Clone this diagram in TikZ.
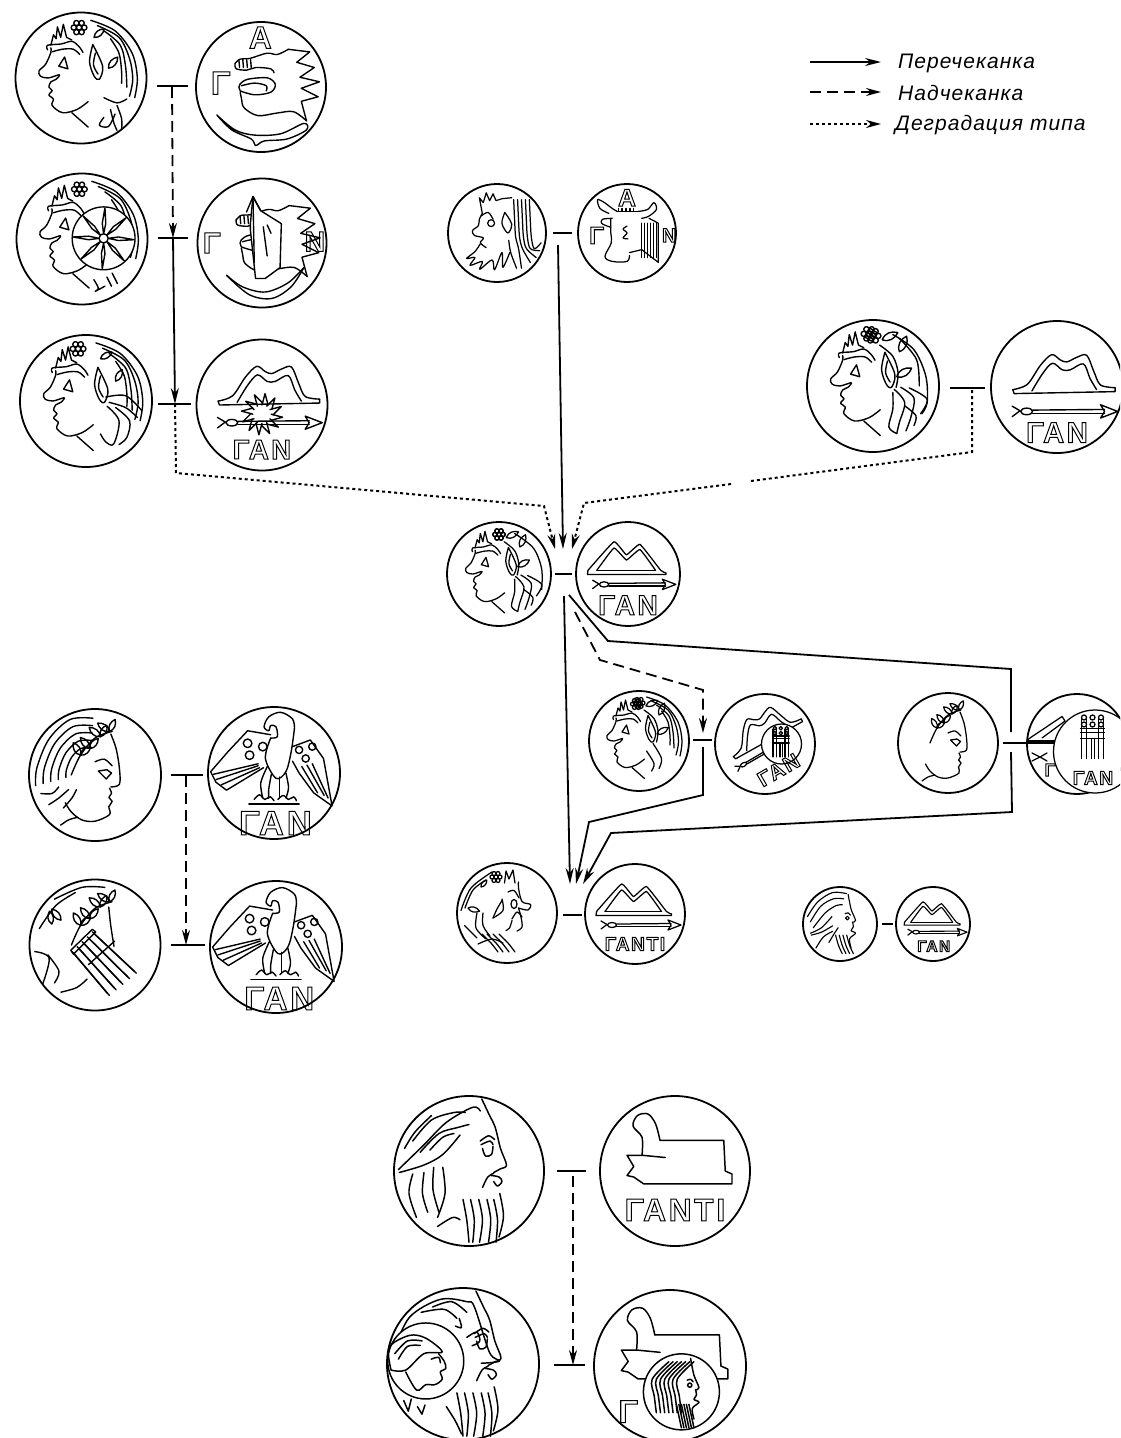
\documentclass[tikz,border=0pt]{standalone}
\usepackage{fontspec}
\usetikzlibrary{arrows.meta}
\newfontfamily\hfont{Liberation Sans}[Scale=1,LetterSpace=9]
\newfontfamily\legfont{Liberation Sans}[LetterSpace=5]
\def\lw{1}
\def\Rr{50}
\tikzset{
 art/.style={line width=\lw pt,line join=round,line cap=round,black},
 coin/.style={circle,draw,line width=1.8pt,inner sep=0pt,outer sep=0pt,fill=white},
 conn/.style={line width=1.8pt,black},
 solidc/.style={conn,-{Stealth[length=16pt,width=8pt]}},
 dashc/.style={conn,dash pattern=on 11pt off 6pt,-{Stealth[length=15pt,width=8pt]}},
 dotc/.style={line width=2pt,black,dash pattern=on 3pt off 3pt,-{Stealth[length=15pt,width=8pt]}},
 legtext/.style={anchor=west,inner sep=0pt,font=\legfont\itshape\fontsize{21}{22}\selectfont},
}
\newcommand\mkcoin[4]{\node[coin,minimum size=#4*2pt] (#1) at (#2,#3) {};}
\newcommand\artin[3]{\begin{scope}[shift={(#1.center)},scale=#2/100]\pgfmathsetmacro\Rr{#2}\pgfmathsetmacro\lw{0.8+#2*0.009}#3\end{scope}}
\newcommand\crv[1]{\draw[art] plot[smooth,tension=.55] coordinates {#1};}
\newcommand\stl[1]{\draw[art] plot coordinates {#1};}
\newcommand\hollow[5]{\pgfmathsetmacro\fsz{\Rr*#4}\node[rotate=#5,inner sep=0pt] at (#1,#2) {\fontsize{\fsz}{\fsz}\selectfont\hfont\bfseries\special{pdf:code q 1 Tr 1 w}#3\special{pdf:code Q}};}
\newcommand\flower[2]{\begin{scope}[shift={(#1,#2)}]\foreach\a in {0,60,...,300}{\draw[art] (\a:8) circle (4);}\draw[art] (0,0) circle (4);\end{scope}}
\newcommand\leaf[4]{\begin{scope}[shift={(#1,#2)},rotate=#3]\draw[art] (0,0) .. controls (#4*.3,-#4*.3) and (#4*.7,-#4*.25) .. (#4,0) .. controls (#4*.7,#4*.25) and (#4*.3,#4*.3) .. (0,0);\end{scope}}
\newcommand\ovl[3]{\draw[art,fill=white] (#1,#2) circle (#3);}
% young head facing left
\newcommand\youngface{
 \crv{(-46,-46)(-46,-39)(-54,-21)(-64,-11)(-62,-3)(-50,0)(-33,-5)(-38,2)(-46,6)(-49,14)(-44,19)(-49,26)(-42,32)(-44,42)(-28,53)(-6,48)(11,36)}
 \stl{(-14,53)(11,75)}
 \crv{(-51,-43)(-51,-50)(-30,-52)(-14,-56)(-3,-48)(3,-39)}
 \crv{(-44,-40)(-28,-44)(-12,-44)(-2,-36)}
 \stl{(-34,-18)(-25,-32)(-20,-14)(-34,-18)}
 \stl{(-46,-50)(-42,-66)(-38,-60)(-36,-78)(-31,-62)(-27,-82)(-22,-62)(-14,-58)}
}
\newcommand\earp{\crv{(18,-51)(13,-25)(20,-3)(28,2)(33,-18)(18,-51)}\crv{(22,-38)(19,-20)(26,-6)}}
\newcommand\wreathL{\flower{0}{-76}\leaf{14}{-70}{25}{26}\leaf{40}{-52}{65}{26}\leaf{36}{-14}{30}{26}\crv{(10,-62)(30,-45)(38,-20)(35,2)}}
\newcommand\locks{\crv{(32,5)(48,25)(40,55)(36,72)}\crv{(42,2)(62,18)(58,45)(50,68)}\crv{(55,3)(82,20)(72,42)}\crv{(30,10)(30,35)(24,62)(36,72)}\crv{(48,30)(65,45)(62,60)}}
\newcommand\hairarcs{\crv{(15,-88)(52,-72)(78,-38)(86,0)(82,30)}\crv{(25,-80)(58,-62)(74,-30)(79,2)(74,28)}\crv{(35,-72)(60,-50)(68,-18)(70,14)}\crv{(45,-60)(58,-38)(62,-10)(62,8)}}
% mountains, arrow
\newcommand\mountain{
 \crv{(-67,2)(-45,-6)(-25,-35)(-8,-51)(5,-43)(15,-40)(30,-47)(45,-50)(56,-25)(66,-5)(88,-1)}
 \crv{(-38,4)(-22,-22)(-7,-38)(8,-28)(20,-28)(40,-37)(50,-15)(60,2)}
 \stl{(-67,2)(-65,8)(88,5)(88,-1)}
}
\newcommand\mountainB{
 \draw[art] plot[smooth,tension=.2] coordinates {(-77,-5)(-27,-60)(-3,-35)(23,-55)(63,-5)(73,0)};
 \draw[art] plot[smooth,tension=.2] coordinates {(-60,-5)(-27,-48)(-3,-25)(23,-45)(53,-5)};
 \stl{(-77,-5)(-78,3)(73,3)(73,0)}\stl{(-60,-5)(53,-5)}
}
\newcommand\arrowT{
 \draw[art] (-46,0) ellipse (9 and 5);
 \stl{(-68,-8)(-56,-1)(-68,8)} \stl{(-37,-2)(72,-3)} \stl{(-37,3)(72,3)}
 \stl{(66,-10)(92,0)(66,10)(72,0)(66,-10)}
}
% lion
\newcommand\lion{
 \crv{(-40,-36)(-32,-43)(-17,-44)(9,-52)(25,-50)(42,-58)}
 \stl{(42,-58)(75,-54)(55,-38)(82,-30)(60,-15)(90,-8)(62,2)(88,15)(62,22)(70,52)}
 \crv{(70,52)(50,38)(25,40)(-5,44)(-26,32)(-30,18)(-32,8)}
 \crv{(-32,6)(-10,12)(15,8)(22,-4)(10,-14)(-20,-12)(-32,-5)(-34,0)(-32,6)}
 \crv{(-30,-2)(-10,-6)(8,-2)(8,6)}
 \crv{(-40,-36)(-38,-28)(-22,-26)(-8,-30)(15,-28)(20,-22)}
 \foreach\x in {-34,-28,-22,-16}{\stl{(\x,-42)(\x+1,-30)}}
}
\newcommand\fish{\crv{(-68,43)(-40,66)(-10,74)(30,72)(66,56)(70,66)(40,80)(5,83)(-8,90)(-15,80)(-45,66)(-68,43)}}
% bearded head facing left
\newcommand\panL{
 \stl{(-30,-40)(-36,-72)(-28,-62)(-22,-82)(-15,-66)(-8,-80)(-2,-66)(10,-70)(30,-72)}
 \crv{(-30,-40)(-36,-28)(-38,-15)(-50,-5)(-46,5)(-28,10)(-34,20)(-22,30)}
 \crv{(-32,-35)(-18,-42)(-8,-28)} \draw[art] (-12,-20) circle (7);
 \crv{(-34,22)(-45,38)(-62,52)(-45,50)(-55,66)(-30,58)(-35,74)(-10,55)(-5,75)(10,40)(12,70)(26,40)}
 \crv{(16,-42)(10,-20)(22,0)(30,-18)(16,-42)}
 \foreach\x/\ex/\ey in {34/50/72,42/68/60,50/80/50,58/87/36,66/90/20}{\crv{(\x,-68)(\x+2,-25)(\x+4,8)(\x+10,32)(\ex,\ey)}}
 \crv{(24,15)(28,40)(40,72)}
}
% bull
\newcommand\bull{
 \crv{(-37,-40)(-55,-50)(-60,-68)(-46,-62)(-30,-50)(-20,-44)} 
 \crv{(22,-44)(42,-48)(55,-62)(60,-48)(44,-34)(30,-30)}
 \stl{(-20,-44)(22,-44)}
 \foreach\x in {-18,-10,-2,6,14}{\stl{(\x,-50)(\x,-44)}}
 \crv{(-30,-30)(-50,-28)(-52,-20)(-40,-14)(-33,-12)}
 \crv{(-33,-30)(-33,0)(-32,20)(-45,48)(-30,58)(0,58)(5,46)}
 \crv{(0,-14)(-8,-8)(0,0)(-8,10)(2,12)}
 \stl{(5,40)(30,34)(64,60)(64,-20)(45,-30)}
 \foreach\x in {30,36,42,48,54,60}{\stl{(\x,-20)(\x,50)}}
}
% eagle
\newcommand\eagleA{
 \crv{(-5,-53)(-13,-22)(3,8)(18,-2)(26,-32)(31,-68)}
 \crv{(31,-68)(28,-82)(10,-92)(-8,-85)(-15,-70)(-8,-64)(-5,-72)(3,-70)(5,-55)(-5,-53)}
 \stl{(-5,-58)(-40,-64)(-70,-32)(-96,-2)(-88,14)(-72,26)(-16,-8)}
 \stl{(-24,-14)(-92,2)}\stl{(-24,-11)(-88,10)}\stl{(-22,-8)(-80,18)}
 \draw[art] (-40,-45) circle (6.5); \draw[art] (-17,-40) circle (6.5); \draw[art] (-37,-27) circle (6.5);
 \stl{(28,-40)(55,-50)(75,-22)(88,50)(60,30)(38,0)(28,-18)}
 \stl{(42,-10)(66,30)}\stl{(50,-12)(76,34)}\stl{(58,-14)(82,38)}
 \draw[art] (38,-35) circle (5.5); \draw[art] (58,-40) circle (5.5); \draw[art] (48,-22) circle (5.5);
 \crv{(-10,-10)(-20,15)(-17,38)} \crv{(-4,2)(-8,25)(-8,38)} \crv{(18,0)(22,22)(18,38)} \crv{(8,6)(8,25)(8,38)}
 \crv{(-30,40)(-22,33)(-14,40)(-6,36)(0,42)} \crv{(6,40)(14,34)(22,40)(30,36)(34,42)}
 \stl{(-38,47)(38,47)}
}
% laureate head facing right
\newcommand\laurR{
 \crv{(24,-62)(32,-40)(37,-10)(37,14)(24,18)}
 \crv{(22,20)(25,28)(21,34)(26,40)(21,48)(22,60)(0,70)(-20,68)(-36,56)(-45,42)}
 \crv{(-52,76)(-40,68)(-26,64)}
 \stl{(5,-6)(18,-8)(25,-3)(17,6)(5,-6)} \crv{(0,-20)(14,-24)(26,-14)}
}
\newcommand\laurel{\foreach\x/\y/\a in {22/-66/-35,8/-58/-40,-8/-40/-50,-22/-30/-60}{\leaf{\x}{\y}{\a+180}{22}\leaf{\x}{\y}{\a+100}{20}}
 \crv{(26,-66)(0,-56)(-22,-30)(-36,0)}}
% ladder-like lyre across a head
\newcommand\lyreD{
 \foreach\t in {0,.25,.5,.75,1}{\draw[art] ({-35+31*\t},{10-30*\t}) -- ({19+41*\t},{74-34*\t}); \draw[art] ({-32+31*\t},{13-30*\t}) -- ({22+41*\t},{77-34*\t});}
 \draw[art] (-37,8) -- (-4,-24) -- (1,-20) -- (-33,14) -- cycle;
 \stl{(-10,30)(30,-6)}
}
\newcommand\lyreV{
 \foreach\x in {-24,-14,10,20}{\draw[art] (\x,-45) -- (\x,34);}
 \foreach\y in {-26,-18,-6}{\draw[art] (-26,\y) -- (22,\y);}
 \foreach\x in {-19,-2,15}{\draw[art] (\x,-48) circle (5); \draw[art] (\x,-34) circle (5);}
 \draw[art] (-4,-6) -- (-4,34); \draw[art] (2,-6) -- (2,34);
}
% big bearded head facing right
\newcommand\zeusR{
 \crv{(17,-96)(27,-75)(35,-58)(42,-30)(50,-8)(42,-3)(33,2)}
 \crv{(16,-35)(28,-40)(32,-35)} \crv{(18,-30)(22,-20)(30,-22)(32,-33)} \crv{(15,-40)(26,-47)(34,-42)}
 \crv{(33,3)(25,8)(18,22)} \crv{(30,6)(40,8)(44,14)(38,20)(33,14)}
 \foreach\x/\e in {-8/0,2/5,13/14,24/26,33/36}{\crv{(\x,38)(\x+5,65)(\e,95)}}
 \crv{(41,30)(46,60)(40,88)}
}
\newcommand\zeusHair{
 \crv{(-94,-2)(-60,-35)(-30,-65)(5,-85)(15,-80)} \crv{(-75,-40)(-50,-68)(-20,-78)(-5,-78)}
 \crv{(-65,-25)(-40,-50)(-15,-58)(0,-62)} \crv{(-93,2)(-60,-8)(-35,-22)(-12,-48)}
 \crv{(-86,-30)(-72,-52)(-50,-74)} \crv{(-52,-28)(-35,-45)(-20,-50)}
 \crv{(-75,4)(-80,30)(-70,62)} \crv{(-60,2)(-62,30)(-55,55)} \crv{(-47,-5)(-48,25)(-40,55)} \crv{(-35,-5)(-32,30)(-42,62)}
 \crv{(-42,74)(-22,62)(-12,65)}
}
\newcommand\sphinx{
 \crv{(-44,-21)(-44,-45)(-56,-60)(-50,-74)(-36,-76)(-26,-63)(-20,-41)}
 \stl{(-20,-41)(65,-41)(67,0)(76,4)(76,17)(-42,17)(-55,8)(-64,6)(-55,-6)(-64,-21)(-44,-21)(-13,-18)}
}
\newcommand\helm{
 \crv{(-38,10)(-40,-15)(-18,-28)(0,-25)(18,-10)(-2,-8)(-22,10)(-38,10)}
 \crv{(-34,-8)(-20,-22)(-4,-22)}\crv{(-30,-2)(-20,-16)(-6,-17)}
 \crv{(14,-8)(20,0)(22,8)(16,12)(18,20)(10,26)(0,26)(-10,32)(-22,12)}
 \crv{(6,-2)(14,-4)(16,2)}
}
\begin{document}
\begin{tikzpicture}[x=1pt,y=-1pt]
\path[use as bounding box,fill=white] (0,0) rectangle (1120,1438);
\clip (0,0) rectangle (1120,1438);
% coins
\mkcoin{a1}{81}{78}{65.5}\mkcoin{a2}{261}{87}{65}
\mkcoin{b1}{82}{239}{65.5}\mkcoin{b2}{262}{243}{64.5}
\mkcoin{c1}{86}{401}{66}\mkcoin{c2}{262}{405}{65.5}
\mkcoin{t1}{497}{233}{49}\mkcoin{t2}{627}{233}{49}
\mkcoin{r1}{873}{386}{66}\mkcoin{r2}{1057}{387}{66}
\mkcoin{m1}{499}{574}{52}\mkcoin{m2}{628}{574}{52}
\mkcoin{n1}{639}{741}{50}\mkcoin{n2}{765}{744}{50}
\mkcoin{n3}{948}{743}{50}\mkcoin{n4}{1077}{744}{50}
\mkcoin{e1}{507}{913}{50}\mkcoin{e2}{635}{914}{50}
\mkcoin{g1}{840}{924}{37}\mkcoin{g2}{933}{924}{37}
\mkcoin{l1}{95}{775}{66}\mkcoin{l2}{274}{773}{66}
\mkcoin{l3}{95}{945}{65.5}\mkcoin{l4}{276}{947}{66}
\mkcoin{z1}{469}{1171}{75}\mkcoin{z2}{675}{1171}{75}
\mkcoin{z3}{463}{1364}{76}\mkcoin{z4}{670}{1366}{76}
% art
\artin{a1}{65.5}{\youngface\earp\flower{-3}{-77}\hairarcs\leaf{20}{-62}{40}{20}\leaf{42}{-15}{50}{22}\crv{(35,30)(55,38)(70,32)}\crv{(45,48)(50,68)(55,80)}\crv{(55,42)(62,62)(62,78)}\crv{(35,60)(28,72)(42,74)(52,55)}}
\artin{a2}{65}{\lion\fish\hollow{-62}{-6}{Γ}{.5}{0}\hollow{-1}{-76}{Α}{.48}{0}}
\artin{b1}{65.5}{\youngface\flower{-4}{-76}\hairarcs\ovl{33}{-1}{48}\foreach\a in {0,45,...,315}{\draw[art] (33,-1) ++(\a:7) -- ++(\a+12:16) -- ++(\a-3:24) -- ++(\a-170:24) -- cycle;}\draw[art] (33,-1) circle (7);\crv{(18,62)(25,75)(20,80)(35,72)}\crv{(38,58)(45,72)}\crv{(46,52)(54,68)}}
\artin{b2}{64.5}{\lion\crv{(-55,50)(-30,68)(5,76)(40,62)(65,38)}\crv{(-55,50)(-20,80)(15,86)(45,68)(65,38)}
 \draw[art,fill=white] (-18,-20) -- (-18,-30) -- (-14,-72) -- (-2,-50) -- (30,-30) -- (28,38) -- (5,55) -- (-10,55) -- cycle;
 \stl{(-24,-48)(-14,-72)(-2,-50)}\stl{(-14,-72)(-12,30)}\stl{(2,-25)(8,20)}\stl{(8,-28)(14,-15)}
 \hollow{-78}{0}{Γ}{.46}{0}\hollow{82}{-2}{Ν}{.44}{0}}
\artin{c1}{66}{\youngface\earp\flower{-12}{-79}\hairarcs\leaf{22}{-64}{30}{20}\leaf{45}{-30}{60}{20}\crv{(30,-6)(60,-8)(84,14)}\crv{(35,2)(60,10)(78,25)}\crv{(32,8)(50,30)(42,65)(30,62)(22,50)}\crv{(45,10)(66,30)(62,55)(50,66)}}
\artin{c2}{65.5}{\begin{scope}[shift={(0,-8)}]\mountain\end{scope}\begin{scope}[shift={(0,27)}]\arrowT\end{scope}\foreach\a in {0,30,...,330}{\draw[art] (0,14) ++(\a:14) -- ++(\a+15:18) -- ++(\a+165:18);}\hollow{0}{68}{ΓΑΝ}{.42}{0}}
\artin{t1}{49}{\panL}
\artin{t2}{49}{\bull\hollow{0}{-72}{Α}{.5}{0}\hollow{-62}{5}{Γ}{.5}{0}\hollow{86}{5}{Ν}{.4}{0}}
\artin{r1}{66}{\youngface\earp\flower{-6}{-79}\wreathL\locks\crv{(30,-78)(62,-55)(80,-15)(82,25)(74,42)}\crv{(40,-72)(66,-40)(70,0)}}
\artin{r2}{66}{\begin{scope}[shift={(0,2)}]\mountain\end{scope}\begin{scope}[shift={(0,37)}]\arrowT\end{scope}\hollow{0}{69}{ΓΑΝ}{.44}{0}}
\artin{m1}{52}{\youngface\earp\flower{0}{-76}\wreathL\locks\crv{(30,-78)(66,-50)(82,-10)(82,30)}}
\artin{m2}{52}{\begin{scope}[shift={(0,-2)}]\mountainB\end{scope}\begin{scope}[shift={(0,20)}]\arrowT\end{scope}\hollow{0}{60}{ΓΑΝ}{.54}{0}}
\artin{n1}{50}{\youngface\earp\flower{-5}{-74}\wreathL\hairarcs\crv{(15,20)(30,45)(25,60)}\crv{(28,5)(45,35)(40,55)}}
\artin{n2}{50}{\begin{scope}[shift={(-5,-8)},rotate=28]\mountain\end{scope}\begin{scope}[shift={(-13,24)},rotate=30,scale=.75]\arrowT\end{scope}\ovl{33}{0}{40}\begin{scope}[shift={(33,2)},scale=.7]\lyreV\end{scope}\hollow{27}{52}{ΓΑΝ}{.42}{30}}
\artin{n3}{50}{\laurR\laurel}
\artin{n4}{50}{\stl{(-100,-8)(-30,-55)(-24,-46)(-70,-12)}\stl{(-100,-6)(-40,-6)}\stl{(-100,-2)(-40,-2)}\stl{(-90,18)(-74,26)(-60,18)}\stl{(-90,34)(-74,26)(-60,34)}\hollow{-54}{52}{Γ}{.36}{0}\ovl{36}{15}{83}\begin{scope}[shift={(33,-5)}]\lyreV\end{scope}\hollow{32}{68}{ΓΑΝ}{.38}{0}}
\artin{e1}{50}{
 \crv{(23,-62)(23,-50)(30,-23)(47,-17)(42,-6)(23,-10)} \crv{(2,-42)(14,-45)(24,-30)} \draw[art] (14,-18) ellipse (6 and 9);
 \crv{(23,-10)(28,8)(30,28)(20,36)} \crv{(10,12)(20,-2)(30,8)} \crv{(10,15)(5,30)(-2,35)}
 \foreach\x in {-50,-40,-28,-16}{\crv{(\x,42)(\x+18,60)(\x+32,78)}}
 \crv{(-58,62)(-30,52)(-8,60)} \flower{-22}{-72} \stl{(-5,-60)(-2,-84)(4,-68)(12,-86)(16,-60)}
 \leaf{-52}{-52}{50}{18}\leaf{-78}{-10}{-15}{24}\crv{(-10,-25)(-20,-8)(-28,10)}\crv{(-10,-28)(-8,-5)(-28,10)}
 \crv{(-92,-5)(-72,-50)(-30,-82)} \crv{(-84,-10)(-68,-46)(-42,-66)} \crv{(-85,25)(-70,40)(-60,50)} \crv{(-60,0)(-62,30)(-42,52)}\crv{(-48,0)(-48,25)(-34,46)}}
\artin{e2}{50}{\begin{scope}[shift={(0,0)}]\mountainB\end{scope}\begin{scope}[shift={(0,22)}]\arrowT\end{scope}\hollow{0}{60}{ΓΑΝΤΙ}{.38}{0}}
\artin{g1}{37}{
 \crv{(22,-80)(30,-40)(42,-10)(34,-5)} \crv{(34,-5)(36,8)(30,18)(42,25)(26,40)(30,65)} \crv{(14,-28)(22,-30)(28,-24)} \draw[art] (20,-16) circle (5);
 \crv{(-88,-20)(-60,-60)(-20,-85)(18,-82)} \crv{(-80,-6)(-52,-48)(-18,-68)(10,-68)} \crv{(-72,10)(-40,-30)(-10,-50)(6,-52)} \crv{(-80,25)(-50,10)(-22,-20)}
 \crv{(-78,30)(-50,22)(-20,5)} \crv{(-65,65)(-45,35)(-20,20)} \crv{(-30,50)(-15,25)(-5,10)}
 \foreach\x in {-12,-2,8,18}{\crv{(\x,30)(\x+8,58)(\x+18,80)}}}
\artin{g2}{37}{\begin{scope}[shift={(0,0)}]\mountainB\end{scope}\begin{scope}[shift={(0,22)}]\arrowT\end{scope}\hollow{2}{60}{ΓΑΝ}{.42}{0}}
\artin{l1}{66}{\laurR\laurel
 \foreach\s in {1,.86,.72,.58,.44}{\begin{scope}[shift={(-8,-6)},scale=\s]\crv{(5,-80)(-30,-78)(-62,-48)(-80,-5)(-82,22)}\end{scope}}
 \crv{(-82,28)(-65,28)(-55,18)}\crv{(-70,45)(-55,35)(-40,22)}\crv{(-48,50)(-35,35)(-28,22)}}
\artin{l2}{66}{\eagleA\hollow{2}{76}{ΓΑΝ}{.52}{0}}
\artin{l3}{65.5}{\laurel\crv{(21,-58)(24,-30)(29,2)}\crv{(-62,-70)(-20,-88)(15,-88)}\crv{(-85,-25)(-60,-60)(-30,-80)}\crv{(-92,10)(-70,20)(-80,60)}\crv{(-72,15)(-55,40)(-62,58)}\crv{(-52,72)(-28,65)(-12,52)}\leaf{-52}{-38}{130}{22}\leaf{-66}{-32}{100}{20}\lyreD}
\artin{l4}{66}{\begin{scope}[shift={(0,2)}]\eagleA\end{scope}\hollow{5}{78}{ΓΑΝ}{.5}{0}}
\artin{z1}{75}{\zeusR\zeusHair}
\artin{z2}{75}{\sphinx\hollow{0}{52}{ΓΑΝΤΙ}{.42}{0}}
\artin{z3}{76}{\zeusR
 \crv{(-90,-20)(-70,-62)(-30,-85)(5,-82)(15,-75)(35,-15)(48,-4)(24,-1)}
 \crv{(-55,-68)(-25,-72)(-8,-60)}\crv{(-40,-75)(-15,-82)(5,-68)}\crv{(-5,-60)(-2,-48)(-10,-50)}
 \crv{(5,-35)(18,-42)(22,-30)(12,-24)}
 \ovl{-49}{-4}{50}\begin{scope}[shift={(-49,-4)},scale=1.2]\helm\end{scope}
 \stl{(-78,48)(-72,62)(-68,46)}\stl{(-60,56)(-54,66)(-50,54)}
 \crv{(-22,56)(-10,75)(-2,92)}}
\artin{z4}{76}{\sphinx\hollow{-55}{60}{Γ}{.42}{0}\ovl{15}{34}{50}\begin{scope}[shift={(15,34)},scale=.55]
 \crv{(22,-80)(30,-40)(42,-10)(34,-5)}\crv{(34,-5)(36,8)(30,18)(42,25)(26,40)(30,65)}\crv{(14,-28)(22,-30)(28,-24)}\draw[art] (20,-16) circle (5);
 \foreach\s in {-70,-60,-50,-40,-30,-20,-10}{\crv{(\s+40,-72)(\s,-30)(\s+5,10)(\s+10,50)}}
 \foreach\x in {-12,-6,0,6,12,18}{\crv{(\x,30)(\x+6,58)(\x+12,86)}}\end{scope}}
% tick anchors and bends
\foreach\n/\xa/\xb/\yy in {p1/157/188/86,p2/158/188/238,p3/158/191/404,p4/553/572/233,p5/950/985/388,p6/555/572/574,p7/693/712/740,p8/1003/1027/743,p9/563/582/915,p10/882/893/924,p11/171/203/775,p12/171/205/945,p13/557/586/1171,p14/554/585/1365}
 {\coordinate (\n a) at (\xa,\yy); \coordinate (\n b) at (\xb,\yy);}
\foreach\n in {p1,p2,p3,p4,p5,p6,p7,p8,p9,p10,p11,p12,p13,p14}{\draw[conn] (\n a) -- (\n b);}
\coordinate (v1) at (172,87); \coordinate (v2) at (173,238); \coordinate (v3) at (175,404); \coordinate (v4) at (176,473);
\coordinate (w1) at (544,506); \coordinate (w2) at (555,549);
\coordinate (x0) at (972,390); \coordinate (x1) at (972,452); \coordinate (x2) at (751,481); \coordinate (x3) at (731,484); \coordinate (x4) at (584,503); \coordinate (x5) at (572,549);
\coordinate (y0) at (558,245); \coordinate (y1) at (563,549);
\coordinate (s0) at (564,596); \coordinate (s1) at (570,884);
\coordinate (s2) at (569,595); \coordinate (s3) at (608,641); \coordinate (s4) at (1011,669); \coordinate (s5) at (1011,732);
\coordinate (s6) at (1011,752); \coordinate (s7) at (1012,812); \coordinate (s8) at (611,833); \coordinate (s9) at (583,884);
\coordinate (h0) at (575,612); \coordinate (h1) at (600,660); \coordinate (h2) at (703,690); \coordinate (h3) at (703,733);
\coordinate (k0) at (703,747); \coordinate (k1) at (703,795); \coordinate (k2) at (589,822); \coordinate (k3) at (576,884);
\coordinate (u0) at (186,776); \coordinate (u1) at (186,945);
\coordinate (q0) at (573,1176); \coordinate (q1) at (573,1365);
\draw[dashc] (v1) -- (v2);
\draw[solidc] (v2) -- (v3);
\draw[dotc] (v3) -- (v4) -- (w1) -- (w2);
\draw[dotc,-] (x0) -- (x1) -- (x2);
\draw[dotc] (x3) -- (x4) -- (x5);
\draw[solidc] (y0) -- (y1);
\draw[solidc] (s0) -- (s1);
\draw[conn] (s2) -- (s3) -- (s4) -- (s5);
\draw[solidc] (s6) -- (s7) -- (s8) -- (s9);
\draw[dashc] (h0) -- (h1) -- (h2) -- (h3);
\draw[solidc] (k0) -- (k1) -- (k2) -- (k3);
\draw[dashc] (u0) -- (u1);
\draw[dashc] (q0) -- (q1);
% legend
\coordinate (la) at (810,62); \coordinate (lb) at (881,62); \coordinate (lc) at (810,92); \coordinate (ld) at (881,92); \coordinate (le) at (810,124); \coordinate (lf) at (881,124);
\draw[solidc] (la) -- (lb); \draw[dashc] (lc) -- (ld); \draw[dotc] (le) -- (lf);
\node[legtext] (lt1) at (898,63) {Перечеканка};
\node[legtext] (lt2) at (898,93) {Надчеканка};
\node[legtext] (lt3) at (895,125) {Деградация\hspace{7pt}типа};
\end{tikzpicture}
\end{document}
